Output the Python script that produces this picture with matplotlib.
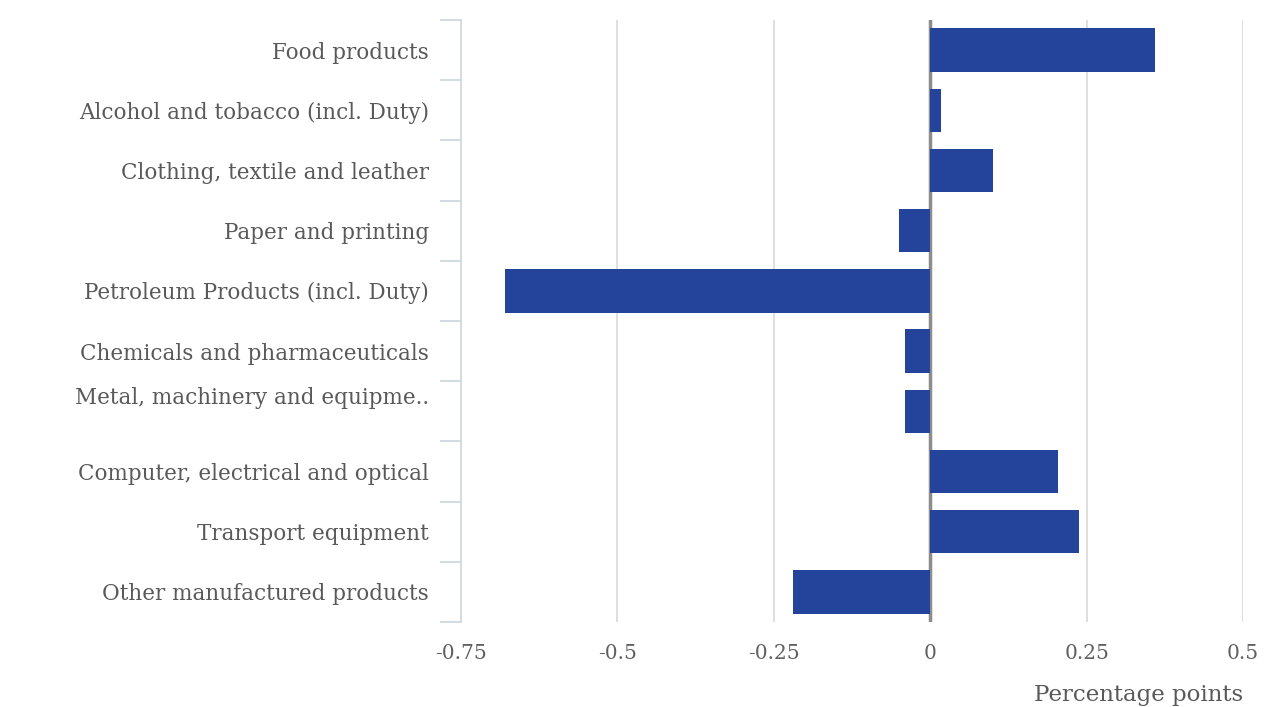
import matplotlib.pyplot as plt
import matplotlib.transforms as mtransforms
import numpy as np

categories = [
    "Food products",
    "Alcohol and tobacco (incl. Duty)",
    "Clothing, textile and leather",
    "Paper and printing",
    "Petroleum Products (incl. Duty)",
    "Chemicals and pharmaceuticals",
    "Metal, machinery and equipme..",
    "Computer, electrical and optical",
    "Transport equipment",
    "Other manufactured products",
]
values = [0.36, 0.017, 0.10, -0.05, -0.68, -0.04, -0.04, 0.205, 0.238, -0.22]
xticks = [-0.75, -0.5, -0.25, 0, 0.25, 0.5]
xtick_labels = ["-0.75", "-0.5", "-0.25", "0", "0.25", "0.5"]

plt.rcParams['font.family'] = ['DejaVu Serif']
txt_color = "#595959"

fig = plt.figure(figsize=(12.64, 7.07), dpi=100)
ax = fig.add_axes([0.3647, 0.1202, 0.9834 - 0.3647, 0.9717 - 0.1202])

y = np.arange(len(categories))
ax.barh(y, values, height=0.72, color="#23449a", zorder=3)
ax.axvline(0, color="#8c8c8c", lw=2.5, zorder=2)

ax.set_xlim(-0.75, 0.5)
ax.set_ylim(len(categories) - 0.5, -0.5)

# vertical grid, none at the left edge or at zero
for xv in xticks[1:]:
    if xv != 0:
        ax.axvline(xv, color="#d9d9d9", lw=1.2, zorder=1)

ax.set_xticks(xticks)
ax.set_xticklabels(xtick_labels)
ax.tick_params(axis="x", length=0, pad=16, labelsize=14.5, labelcolor="#606060")

# category labels on the row centres, ticks on the boundaries
ax.set_yticks(y)
ax.set_yticklabels(categories)
ax.tick_params(axis="y", which="major", length=0, pad=23, labelsize=15.5,
               labelcolor=txt_color)
ax.set_yticks(np.arange(-0.5, len(categories), 1.0), minor=True)
ax.tick_params(axis="y", which="minor", length=15, width=1.2, color="#cbd6de")

# the truncated label sits a little higher than its row
lab = ax.get_yticklabels()[6]
lab.set_transform(lab.get_transform() +
                  mtransforms.ScaledTranslation(0, 0.16, fig.dpi_scale_trans))

for s in ["top", "right", "bottom"]:
    ax.spines[s].set_visible(False)
ax.spines["left"].set_color("#cbd6de")
ax.spines["left"].set_linewidth(1.2)

ax.set_xlabel("Percentage points", fontsize=16.5, color=txt_color, loc="right",
              labelpad=15)

fig.savefig("out.png", dpi=100)
